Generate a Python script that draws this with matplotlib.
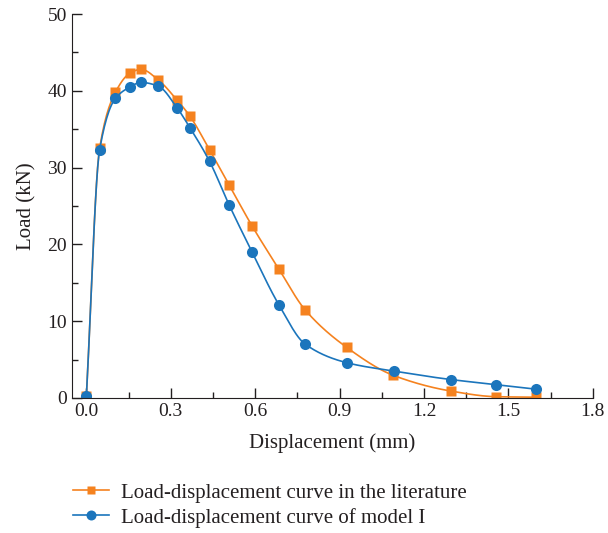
import numpy as np
import matplotlib
matplotlib.use("Agg")
import matplotlib.pyplot as plt
from matplotlib.ticker import MultipleLocator

# 读图得到的数据点 (mm, kN)
lit_x = [0.0, 0.047, 0.103, 0.155, 0.194, 0.256, 0.322, 0.368, 0.438, 0.508,
         0.589, 0.684, 0.777, 0.925, 1.091, 1.296, 1.455, 1.598]
lit_y = [0.2, 32.5, 39.8, 42.3, 42.8, 41.4, 38.8, 36.7, 32.3, 27.7,
         22.4, 16.8, 11.5, 6.6, 2.95, 0.9, 0.17, 0.1]
mod_x = [0.0, 0.047, 0.103, 0.155, 0.194, 0.256, 0.322, 0.368, 0.438, 0.508,
         0.589, 0.684, 0.778, 0.925, 1.093, 1.296, 1.455, 1.598]
mod_y = [0.2, 32.3, 39.0, 40.5, 41.1, 40.6, 37.8, 35.2, 30.8, 25.1,
         19.0, 12.15, 7.0, 4.6, 3.5, 2.4, 1.75, 1.15]

LABELS = ["Load-displacement curve in the literature",
          "Load-displacement curve of model I"]
ORANGE, BLUE = "#f5821f", "#1b75bc"


def smooth(x, y, n=400):
    """单调三次 Hermite (Fritsch-Carlson)，只用来画平滑连线。"""
    x, y = np.asarray(x, float), np.asarray(y, float)
    h = np.diff(x)
    d = np.diff(y) / h
    m = np.zeros_like(y)
    m[0], m[-1] = d[0], d[-1]
    for i in range(1, len(x) - 1):
        if d[i - 1] * d[i] > 0:
            w1, w2 = 2 * h[i] + h[i - 1], h[i] + 2 * h[i - 1]
            m[i] = (w1 + w2) / (w1 / d[i - 1] + w2 / d[i])
    xs = np.linspace(x[0], x[-1], n)
    k = np.clip(np.searchsorted(x, xs) - 1, 0, len(x) - 2)
    t = (xs - x[k]) / h[k]
    h00 = 2 * t**3 - 3 * t**2 + 1
    h10 = t**3 - 2 * t**2 + t
    h01 = -2 * t**3 + 3 * t**2
    h11 = t**3 - t**2
    ys = h00 * y[k] + h10 * h[k] * m[k] + h01 * y[k + 1] + h11 * h[k] * m[k + 1]
    return xs, ys


plt.rcParams["font.family"] = ["Liberation Serif", "DejaVu Serif"]
fig = plt.figure(figsize=(6.08, 5.33), dpi=100)
ax = fig.add_axes([0.118, 0.2533, 0.857, 0.7204])

for x, y, c, mk, lab, ms in [(lit_x, lit_y, ORANGE, "s", LABELS[0], 7),
                             (mod_x, mod_y, BLUE, "o", LABELS[1], 8)]:
    xs, ys = smooth(x, y)
    ax.plot(xs, ys, color=c, lw=1.2)
    ax.plot(x, y, mk, color=c, ms=ms, mec="none")
    ax.plot([], [], color=c, lw=1.2, marker=mk, ms=ms * 0.9, mec="none", label=lab)

ax.set_xlim(-0.052, 1.8)
ax.set_ylim(0, 50)
ax.xaxis.set_major_locator(MultipleLocator(0.3))
ax.xaxis.set_minor_locator(MultipleLocator(0.15))
ax.yaxis.set_major_locator(MultipleLocator(10))
ax.yaxis.set_minor_locator(MultipleLocator(5))
ax.set_xticks(np.arange(0, 1.81, 0.3))
ax.set_xticklabels([f"{v:.1f}" for v in np.arange(0, 1.81, 0.3)])
ax.tick_params(which="both", direction="in", labelsize=14, colors="#231f20")
ax.tick_params(which="major", length=7, width=1)
ax.tick_params(which="minor", length=4, width=1)
for s in ("top", "right"):
    ax.spines[s].set_visible(False)
for s in ("left", "bottom"):
    ax.spines[s].set_color("#231f20")
ax.set_xlabel("Displacement (mm)", fontsize=15, color="#231f20", labelpad=10)
ax.set_ylabel("Load (kN)", fontsize=15, color="#231f20", labelpad=8)

fig.legend(loc="upper left", bbox_to_anchor=(0.09, 0.129), frameon=False,
           fontsize=15, handlelength=1.7, handletextpad=0.6, labelspacing=0.25,
           labelcolor="#231f20")

fig.savefig("out.png", dpi=100)
